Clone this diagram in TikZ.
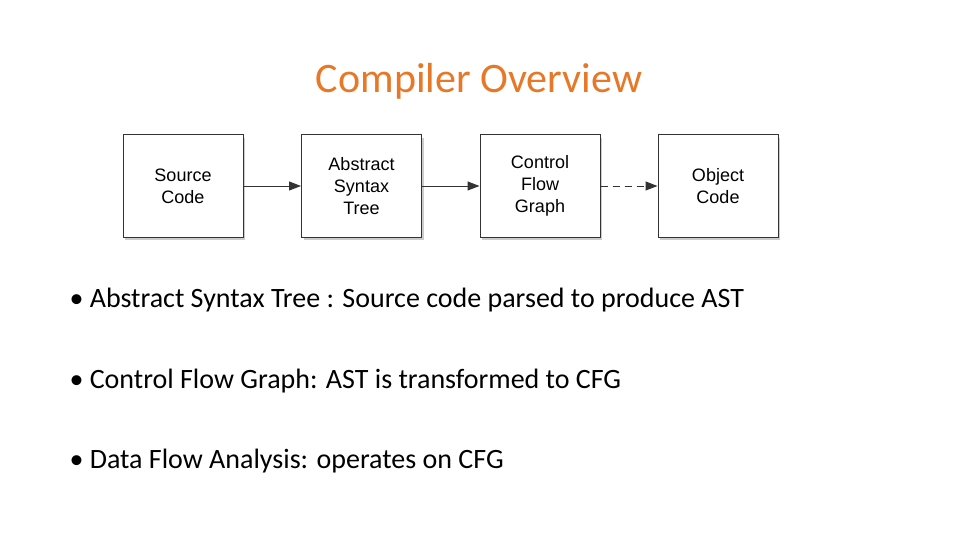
\documentclass[tikz,border=0pt]{standalone}
\usepackage{fontspec}
\setmainfont{Carlito}
\newfontfamily\boxfont{Liberation Sans}
\usetikzlibrary{shadows,arrows.meta}
\definecolor{titleor}{RGB}{230,120,40}
\begin{document}
\begin{tikzpicture}[x=1pt,y=-1pt,
  box/.style={draw=black!80,line width=1pt,fill=white,minimum width=120pt,minimum height=102pt,
    align=center,font=\boxfont\fontsize{18}{22}\selectfont,drop shadow={shadow xshift=2pt,shadow yshift=-3pt,opacity=0.4}},
  arr/.style={-{Triangle[length=12pt,width=9pt]},line width=1pt,black!80},
  bul/.style={anchor=west,font=\fontsize{28}{32}\selectfont}]
\useasboundingbox (0,0) rectangle (960,540);
\node[font=\fontsize{42}{50}\selectfont,text=titleor] (t) at (479,81) {Compiler Overview};
\node[box] (s) at (183,186) {Source\\Code};
\node[box] (a) at (361.5,186) {Abstract\\Syntax\\Tree};
\node[box] (c) at (540,186) {Control\\Flow\\Graph};
\node[box] (o) at (718,186) {Object\\Code};
\draw[arr] (s) -- (a);
\draw[arr] (a) -- (c);
\draw[arr,dash pattern=on 7pt off 5pt] (c) -- (o);
\node[bul] (b1) at (66,300) {\textbullet\ Abstract Syntax Tree : Source code parsed to produce AST};
\node[bul] (b2) at (66,381) {\textbullet\ Control Flow Graph: AST is transformed to CFG};
\node[bul] (b3) at (66,461) {\textbullet\ Data Flow Analysis: operates on CFG};
\end{tikzpicture}
\end{document}
